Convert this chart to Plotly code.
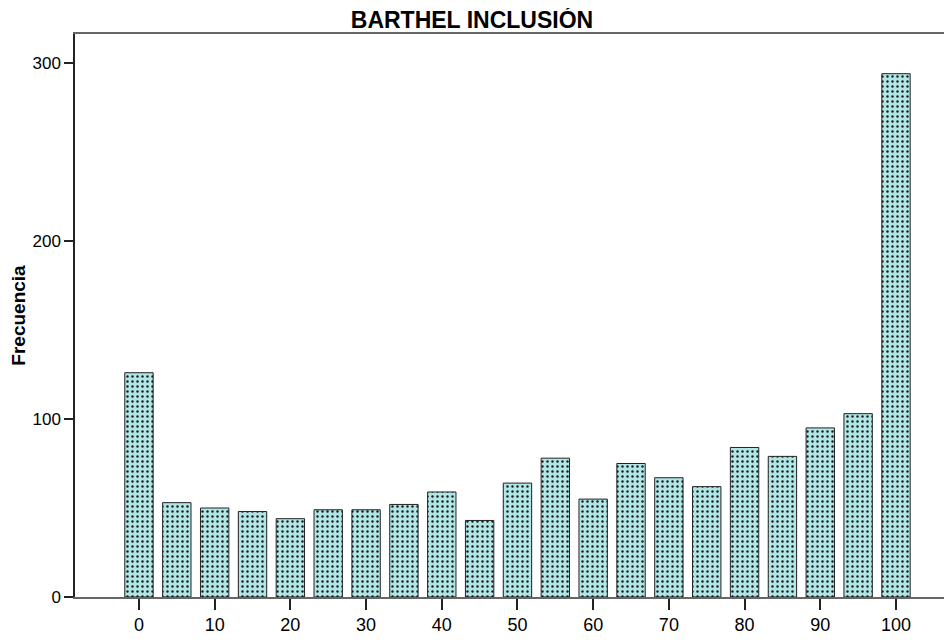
import plotly.graph_objects as go

categories = [0, 5, 10, 15, 20, 25, 30, 35, 40, 45, 50, 55, 60, 65, 70, 75, 80, 85, 90, 95, 100]
frecuencia = [126, 53, 50, 48, 44, 49, 49, 52, 59, 43, 64, 78, 55, 75, 67, 62, 84, 79, 95, 103, 294]
x_ticks = [0, 10, 20, 30, 40, 50, 60, 70, 80, 90, 100]
y_ticks = [0, 100, 200, 300]

fig = go.Figure()
fig.add_trace(go.Bar(
    x=categories,
    y=frecuencia,
    width=3.75,
    marker=dict(
        color="#b0e6e6",
        line=dict(color="#222222", width=1),
        pattern=dict(shape=".", bgcolor="#b0e6e6", fgcolor="#1a1a1a",
                     size=5, solidity=0.18, fillmode="replace"),
    ),
    showlegend=False,
))

font_family = "Liberation Sans, Arial, sans-serif"
fig.update_layout(
    width=944, height=634,
    margin=dict(l=67, r=0, t=26, b=45, autoexpand=False),
    paper_bgcolor="white", plot_bgcolor="white",
    title=dict(text="<b>BARTHEL INCLUSIÓN</b>", x=0.4915, xref="container", xanchor="center",
               y=0.981, yref="container", yanchor="middle",
               font=dict(family=font_family, size=23, color="black")),
    font=dict(family=font_family, color="black"),
    bargap=0.25,
)
fig.update_xaxes(
    range=[-8.45, 107.4],
    tickvals=x_ticks,
    ticks="outside", ticklen=11, tickwidth=2, tickcolor="#222",
    tickfont=dict(size=18, family=font_family, color="black"),
    showline=True, linecolor="#666", linewidth=1.5, mirror=True,
    showgrid=False, zeroline=False, automargin=False,
)
fig.update_yaxes(
    range=[0, 316.3],
    tickvals=y_ticks,
    ticks="outside", ticklen=9, tickwidth=2, tickcolor="#222",
    tickfont=dict(size=17, family=font_family, color="black"),
    showline=True, linecolor="#222", linewidth=1.5,
    showgrid=False, zeroline=False, automargin=False,
    title=dict(text="<b>Frecuencia</b>", font=dict(size=19, family=font_family, color="black"), standoff=18),
)
fig.write_html("out.html")
